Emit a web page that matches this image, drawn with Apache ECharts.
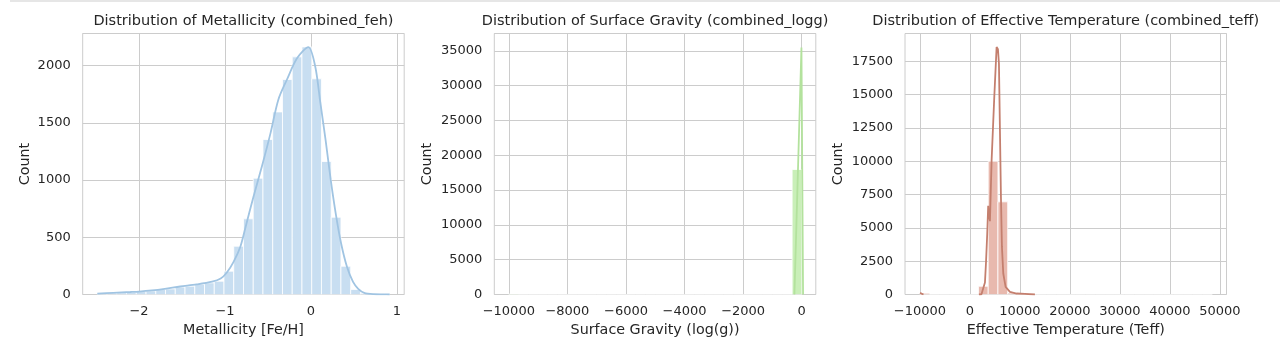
<!DOCTYPE html>
<html><head><meta charset="utf-8">
<script src="https://cdn.jsdelivr.net/npm/echarts@6/dist/echarts.min.js"></script>
<style>html,body{margin:0;padding:0;background:#fff}#c{width:1280px;height:360px}</style>
</head><body><div id="c"></div>
<script>
// ---------- Data ----------
const titles = [
  'Distribution of Metallicity (combined_feh)',
  'Distribution of Surface Gravity (combined_logg)',
  'Distribution of Effective Temperature (combined_teff)'
];
const xNames = ['Metallicity [Fe/H]', 'Surface Gravity (log(g))', 'Effective Temperature (Teff)'];

// Metallicity histogram (30 bins)
const fehBinRange = [-2.485, 0.916];
const fehCounts = [9, 12, 15, 20, 26, 32, 44, 49, 65, 73, 87, 102, 116, 204, 422, 661, 1016, 1354, 1595, 1878, 2076, 2163, 1884, 1162, 675, 247, 44, 10, 3, 1];
const fehKdeX = [-2.485, -2.3, -2.1, -2.0, -1.85, -1.7, -1.52, -1.33, -1.15, -1.05, -0.98, -0.9, -0.82, -0.76, -0.67, -0.57, -0.47, -0.38, -0.28, -0.16, -0.03, 0.05, 0.11, 0.17, 0.23, 0.29, 0.35, 0.42, 0.49, 0.55, 0.62, 0.73, 0.85, 0.916];
const fehKdeY = [8, 15, 22, 26, 36, 50, 70, 88, 112, 140, 190, 285, 420, 590, 850, 1120, 1410, 1700, 1876, 2065, 2161, 1992, 1673, 1352, 1003, 700, 450, 240, 110, 50, 15, 3, 1, 0];

// Surface gravity histogram (30 bins)
const loggBinRange = [-9999, 5];
const loggCounts = [60, 0, 0, 0, 0, 0, 0, 0, 0, 0, 0, 0, 0, 0, 0, 0, 0, 0, 0, 0, 0, 0, 0, 0, 0, 0, 0, 0, 0, 17960];
const loggKdeX = [-250, -130, -10, 45];
const loggKdeY = [0, 17700, 35500, 0];

// Effective temperature histogram (30 bins)
const teffBinRange = [-9999, 48501];
const teffCounts = [100, 0, 0, 0, 0, 0, 620, 10000, 6950, 110, 30, 8, 0, 0, 0, 0, 0, 0, 0, 0, 0, 0, 0, 0, 0, 0, 0, 0, 0, 0];
const teffKdeX = [-9999, -9700, -9300, -5000, 1800, 2300, 2667, 3000, 3200, 3450, 3650, 3800, 4000, 4333, 4867, 5333, 5467, 5600, 5800, 6000, 6200, 6400, 6667, 7133, 8000, 9333, 11000, 13000];
const teffKdeY = [120, 60, 0, null, 0, 20, 75, 900, 2325, 4500, 6650, 6000, 5500, 10070, 14820, 18570, 18700, 18400, 17325, 12320, 7320, 3570, 1575, 570, 195, 75, 40, 0];

// Axis extents and tick values
const xMin = [-2.655, -10495, -13000];
const xMax = [1.085, 480, 51340];
const fehTicks = [-2, -1, 0, 1];
const loggTicks = [-10000, -8000, -6000, -4000, -2000, 0];
const teffTicks = [-10000, 0, 10000, 20000, 30000, 40000, 50000];
const yMax = [2280, 37500, 19580];
const yStep = [500, 5000, 2500];

const barColors = ['#c8def1', '#c9efb8', '#e8b9ae'];
const lineColors = ['#a0c4e2', '#b3e29d', '#c47f6e'];

// ---------- Chart ----------
const FONT = 'DejaVu Sans';
const TXT = '#262626';
const gridLefts = [82.7, 494.3, 905];
const GW = 321.5, GT = 33.5, GH = 261;
const xTicks = [fehTicks, loggTicks, teffTicks];

function fmt(v) {
  const s = String(Math.round(v * 1000) / 1000);
  return s.replace('-', '\u2212');
}
function binData(range, counts) {
  const n = counts.length, w = (range[1] - range[0]) / n;
  return counts.map((c, i) => [range[0] + i * w, range[0] + (i + 1) * w, c]);
}
function zip(xs, ys) { return xs.map((x, i) => [x, ys[i]]); }

const bins = [binData(fehBinRange, fehCounts), binData(loggBinRange, loggCounts), binData(teffBinRange, teffCounts)];
const kdes = [zip(fehKdeX, fehKdeY), zip(loggKdeX, loggKdeY), zip(teffKdeX, teffKdeY)];

const grid = [], xAxis = [], yAxis = [], series = [], title = [];
const yNameGap = [50, 60, 60];
for (let i = 0; i < 3; i++) {
  grid.push({left: gridLefts[i], top: GT, width: GW, height: GH, show: true,
    borderColor: '#cccccc', borderWidth: 1, backgroundColor: '#fff'});
  title.push({text: titles[i], left: gridLefts[i] + GW / 2, top: 14, textAlign: 'center', padding: 0,
    textStyle: {fontFamily: FONT, fontSize: 14.5, fontWeight: 'normal', color: TXT}});
  xAxis.push({type: 'value', gridIndex: i, min: xMin[i], max: xMax[i],
    name: xNames[i], nameLocation: 'middle', nameGap: 29,
    nameTextStyle: {fontFamily: FONT, fontSize: 14.3, color: TXT},
    axisLine: {show: false},
    axisTick: {show: false, customValues: xTicks[i]},
    axisLabel: {fontFamily: FONT, fontSize: 13, color: TXT, margin: 11, formatter: fmt,
      customValues: xTicks[i]},
    splitLine: {show: true, lineStyle: {color: '#cccccc', width: 1}}});
  yAxis.push({type: 'value', gridIndex: i, min: 0, max: yMax[i], interval: yStep[i],
    name: 'Count', nameLocation: 'middle', nameGap: yNameGap[i],
    nameTextStyle: {fontFamily: FONT, fontSize: 14.3, color: TXT},
    axisLine: {show: false}, axisTick: {show: false},
    axisLabel: {fontFamily: FONT, fontSize: 13, color: TXT, margin: 12, formatter: fmt,
      showMaxLabel: false},
    splitLine: {show: true, lineStyle: {color: '#cccccc', width: 1}}});
  const col = barColors[i];
  series.push({type: 'custom', xAxisIndex: i, yAxisIndex: i, data: bins[i], silent: true,
    encode: {x: [0, 1], y: 2}, clip: true,
    renderItem(params, api) {
      const p0 = api.coord([api.value(0), api.value(2)]);
      const p1 = api.coord([api.value(1), 0]);
      return {type: 'rect', shape: {x: p0[0], y: p0[1], width: p1[0] - p0[0], height: p1[1] - p0[1]},
        style: {fill: col, stroke: '#ffffff', lineWidth: 0.8}};
    }});
  series.push({type: 'line', xAxisIndex: i, yAxisIndex: i, data: kdes[i], symbol: 'none', showSymbol: false,
    smooth: i === 0 ? 0.3 : false, connectNulls: false, silent: true, clip: true,
    lineStyle: {color: lineColors[i], width: 1.8}, z: 3});
}

const chart = echarts.init(document.getElementById('c'), null, {renderer: 'canvas'});
chart.setOption({
  animation: false,
  backgroundColor: '#ffffff',
  title, grid, xAxis, yAxis, series,
  graphic: [{type: 'rect', shape: {x: 10, y: 0, width: 1270, height: 2}, style: {fill: '#e6e6e6'}, silent: true}]
});
</script>
</body></html>
